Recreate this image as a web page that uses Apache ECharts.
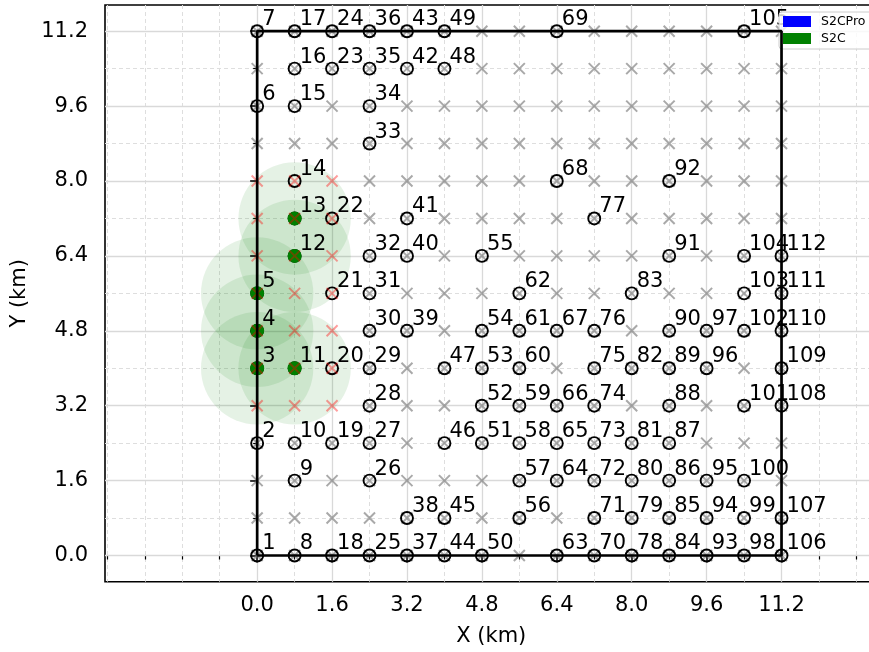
<!DOCTYPE html>
<html>
<head>
<meta charset="utf-8">
<script src="https://cdn.jsdelivr.net/npm/echarts@6/dist/echarts.min.js"></script>
<style>
  html, body { margin: 0; padding: 0; background: #ffffff; }
  #chart { width: 869px; height: 652px; }
</style>
</head>
<body>
<div id="chart"></div>
<script>
// Candidate lattice (km)
const gridX = [0, 0.8, 1.6, 2.4, 3.2, 4.0, 4.8, 5.6, 6.4, 7.2, 8.0, 8.8, 9.6, 10.4, 11.2];
const gridY = [0, 0.8, 1.6, 2.4, 3.2, 4.0, 4.8, 5.6, 6.4, 7.2, 8.0, 8.8, 9.6, 10.4, 11.2];

// Numbered sites: y positions for each lattice column (numbered column by column, bottom to top)
const siteYByColumn = [
  [0, 2.4, 4.0, 4.8, 5.6, 9.6, 11.2],
  [0, 1.6, 2.4, 4.0, 6.4, 7.2, 8.0, 9.6, 10.4, 11.2],
  [0, 2.4, 4.0, 5.6, 7.2, 10.4, 11.2],
  [0, 1.6, 2.4, 3.2, 4.0, 4.8, 5.6, 6.4, 8.8, 9.6, 10.4, 11.2],
  [0, 0.8, 4.8, 6.4, 7.2, 10.4, 11.2],
  [0, 0.8, 2.4, 4.0, 10.4, 11.2],
  [0, 2.4, 3.2, 4.0, 4.8, 6.4],
  [0.8, 1.6, 2.4, 3.2, 4.0, 4.8, 5.6],
  [0, 1.6, 2.4, 3.2, 4.8, 8.0, 11.2],
  [0, 0.8, 1.6, 2.4, 3.2, 4.0, 4.8, 7.2],
  [0, 0.8, 1.6, 2.4, 4.0, 5.6],
  [0, 0.8, 1.6, 2.4, 3.2, 4.0, 4.8, 6.4, 8.0],
  [0, 0.8, 1.6, 4.0, 4.8],
  [0, 0.8, 1.6, 3.2, 4.8, 5.6, 6.4, 11.2],
  [0, 0.8, 3.2, 4.0, 4.8, 5.6, 6.4]
];

// Selected S2C stations and their coverage radius (km)
const s2cX = [0, 0, 0, 0.8, 0.8, 0.8];
const s2cY = [4.0, 4.8, 5.6, 4.0, 6.4, 7.2];
const coverageRadius = 1.2;

// Lattice points inside the coverage (red crosses)
const coveredX = [0, 0.8, 1.6];
const coveredY = [3.2, 4.0, 4.8, 5.6, 6.4, 7.2, 8.0];

// Study area boundary (km)
const areaX = [0, 11.2, 11.2, 0, 0];
const areaY = [0, 0, 11.2, 11.2, 0];

// Axis ticks (km)
const xMajorTicks = [0, 1.6, 3.2, 4.8, 6.4, 8.0, 9.6, 11.2];
const xMinorTicks = [-3.2, -2.4, -1.6, -0.8, 0.8, 2.4, 4.0, 5.6, 7.2, 8.8, 10.4, 12.0, 12.8];
const yMajorTicks = [0, 1.6, 3.2, 4.8, 6.4, 8.0, 9.6, 11.2];
const yMinorTicks = [0.8, 2.4, 4.0, 5.6, 7.2, 8.8, 10.4];

const FONT = 'DejaVu Sans';
const FS = 21;
const crossPath = 'path://M0,0L10,10M10,0L0,10';

const sitePoints = [];
let siteId = 1;
siteYByColumn.forEach((ys, ci) => {
  ys.forEach(y => { sitePoints.push([gridX[ci], y, siteId]); siteId += 1; });
});

const isCovered = (x, y) => coveredX.includes(x) && coveredY.includes(y);
const grayCrosses = [];
const redCrosses = [];
gridX.forEach(x => gridY.forEach(y => {
  (isCovered(x, y) ? redCrosses : grayCrosses).push([x, y]);
}));

const s2cPoints = s2cX.map((x, i) => [x, s2cY[i]]);
const areaLine = areaX.map((x, i) => [x, areaY[i]]);

const X_MIN = -3.25, X_MAX = 13.25, Y_MIN = -0.56, Y_MAX = 11.76;

function makeAxis(kind, ticks, major) {
  const base = {
    type: 'value',
    min: kind === 'x' ? X_MIN : Y_MIN,
    max: kind === 'x' ? X_MAX : Y_MAX,
    position: kind === 'x' ? 'bottom' : 'left',
    axisLine: { show: false },
    axisTick: {
      show: true, customValues: ticks, length: major ? 7 : 4,
      lineStyle: { color: '#000', width: major ? 1.5 : 1.2 }
    },
    axisLabel: major ? {
      show: true, customValues: ticks,
      formatter: v => Number(v).toFixed(1),
      fontFamily: FONT, fontSize: FS, color: '#000',
      margin: kind === 'x' ? 13 : 17
    } : { show: false },
    splitLine: {
      show: true,
      lineStyle: major
        ? { color: '#d9d9d9', width: 1.3, type: 'solid' }
        : { color: '#dedede', width: 1, type: [4, 3] }
    },
    z: major ? 1 : 0
  };
  if (major) {
    base.name = kind === 'x' ? 'X (km)' : 'Y (km)';
    base.nameLocation = 'middle';
    base.nameGap = kind === 'x' ? 44 : 56;
    base.nameTextStyle = { fontFamily: FONT, fontSize: FS, color: '#000' };
  }
  return base;
}

const chart = echarts.init(document.getElementById('chart'), null, { renderer: 'canvas' });

chart.setOption({
  animation: false,
  backgroundColor: '#ffffff',
  grid: {
    left: 105, top: 5, right: -8.5, bottom: 70.3,
    show: true, borderColor: '#000', borderWidth: 1.6, backgroundColor: 'transparent',
    containLabel: false, outerBoundsMode: 'none'
  },
  xAxis: [makeAxis('x', xMajorTicks, true), makeAxis('x', xMinorTicks, false)],
  yAxis: [makeAxis('y', yMajorTicks, true), makeAxis('y', yMinorTicks, false)],
  legend: {
    left: 779, top: 12, orient: 'vertical',
    data: [{ name: 'S2CPro', icon: 'rect' }, { name: 'S2C', icon: 'rect' }],
    itemWidth: 28, itemHeight: 11, itemGap: 4,
    padding: [3, 8, 4, 4],
    borderColor: '#cccccc', borderWidth: 1, borderRadius: 3,
    backgroundColor: 'rgba(255,255,255,0.8)',
    itemStyle: { borderWidth: 0, opacity: 1 },
    textStyle: { fontFamily: FONT, fontSize: 12.5, color: '#000', padding: [0, 0, 0, 5] },
    selectedMode: false
  },
  series: [
    {
      name: 'coverage', type: 'custom', silent: true, z: 1,
      data: s2cPoints,
      renderItem: (params, api) => {
        const c = api.coord([api.value(0), api.value(1)]);
        const r = api.size([coverageRadius, 0])[0];
        return { type: 'circle', shape: { cx: c[0], cy: c[1], r: r },
                 style: { fill: 'rgba(0,128,0,0.1)' } };
      }
    },
    {
      name: 'candidates', type: 'scatter', silent: true, z: 2,
      data: grayCrosses, symbol: crossPath, symbolSize: 11,
      itemStyle: { color: 'transparent', borderColor: 'rgba(128,128,128,0.68)', borderWidth: 2, opacity: 1 }
    },
    {
      name: 'sites', type: 'scatter', silent: true, z: 3,
      data: sitePoints, symbol: 'circle', symbolSize: 12,
      itemStyle: { color: 'transparent', borderColor: '#000', borderWidth: 1.9, opacity: 1 },
      label: {
        show: true, formatter: p => String(p.value[2]),
        position: [12, 6], align: 'left', verticalAlign: 'bottom',
        fontFamily: FONT, fontSize: FS, color: '#000'
      }
    },
    {
      name: 'S2C', type: 'scatter', silent: true, z: 4,
      data: s2cPoints, symbol: 'circle', symbolSize: 14,
      itemStyle: { color: '#008000', opacity: 1 }
    },
    {
      name: 'covered', type: 'scatter', silent: true, z: 5,
      data: redCrosses, symbol: crossPath, symbolSize: 11,
      itemStyle: { color: 'transparent', borderColor: 'rgba(255,0,0,0.38)', borderWidth: 2, opacity: 1 }
    },
    {
      name: 'area', type: 'line', silent: true, z: 6,
      data: areaLine, symbol: 'none',
      lineStyle: { color: '#000', width: 2.7 }
    },
    {
      name: 'S2CPro', type: 'scatter', data: [],
      itemStyle: { color: '#0000ff', opacity: 1 }
    }
  ]
});
</script>
</body>
</html>
